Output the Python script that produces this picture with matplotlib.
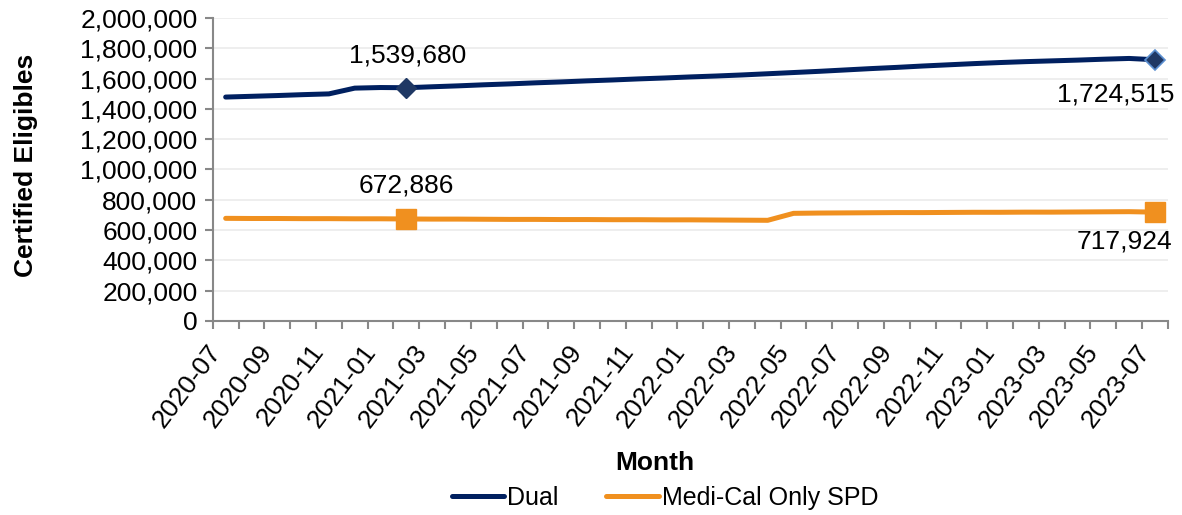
import numpy as np
import matplotlib
matplotlib.use("Agg")
import matplotlib.pyplot as plt
from matplotlib.ticker import FuncFormatter, MultipleLocator, FixedLocator
from matplotlib.transforms import ScaledTranslation

plt.rcParams['font.family'] = ['Liberation Sans', 'DejaVu Sans']

# months 2020-07 .. 2023-07
months = [f"{2020 + (6 + i) // 12}-{(6 + i) % 12 + 1:02d}" for i in range(37)]

dual = [1478000, 1483000, 1488000, 1494000, 1499000, 1537000, 1541000, 1539680,
        1546000, 1552000, 1559000, 1565000, 1572000, 1578000, 1585000, 1591000,
        1598000, 1604000, 1611000, 1617000, 1624000, 1632000, 1640000, 1648000,
        1657000, 1666000, 1674000, 1683000, 1691000, 1699000, 1706000, 1712000,
        1717000, 1722000, 1728000, 1733000, 1724515]

spd = [677000, 676000, 676000, 675000, 675000, 674000, 674000, 672886,
       672000, 672000, 671000, 670000, 670000, 669000, 669000, 668000,
       668000, 667000, 667000, 666000, 665000, 664000, 710000, 712000,
       713000, 714000, 715000, 715000, 716000, 717000, 717000, 718000,
       718000, 719000, 720000, 721000, 717924]

NAVY = '#002060'
ORANGE = '#F0901F'
FS = 19

fig = plt.figure(figsize=(11.82, 5.15), dpi=100)
ax = fig.add_axes([0.180, 0.377, 0.808, 0.588])

x = np.arange(len(months))
ax.plot(x, dual, color=NAVY, lw=3.6, solid_capstyle='round', label='Dual', zorder=3)
ax.plot(x, spd, color=ORANGE, lw=3.6, solid_capstyle='round', label='Medi-Cal Only SPD', zorder=3)

# highlighted points
ax.plot(7, dual[7], marker='D', ms=10, color='#1F3864', zorder=4)
ax.plot(36, dual[36], marker='D', ms=10, color='#1F3864', mec='#5B8FD0', mew=1.2, zorder=4)
ax.plot(7, spd[7], marker='s', ms=14, color=ORANGE, zorder=4)
ax.plot(36, spd[36], marker='s', ms=14, color=ORANGE, zorder=4)

fmt = lambda v: f"{v:,.0f}"
ax.annotate(fmt(dual[7]), (7, dual[7]), xytext=(1, 23), textcoords='offset points',
            ha='center', va='center', fontsize=FS)
ax.annotate(fmt(spd[7]), (7, spd[7]), xytext=(0, 24), textcoords='offset points',
            ha='center', va='center', fontsize=FS)
ax.annotate(fmt(dual[36]), (36, dual[36]), xytext=(-28, -25), textcoords='offset points',
            ha='center', va='center', fontsize=FS)
ax.annotate(fmt(spd[36]), (36, spd[36]), xytext=(-22, -21), textcoords='offset points',
            ha='center', va='center', fontsize=FS)

ax.set_xlim(-0.5, len(months) - 0.5)
ax.set_ylim(0, 2000000)
ax.yaxis.set_major_locator(MultipleLocator(200000))
ax.yaxis.set_major_formatter(FuncFormatter(lambda v, p: f"{v:,.0f}"))
ax.grid(axis='y', color='#EBEBEB', lw=1.2, zorder=0)

ax.set_xticks(x[::2])
ax.set_xticklabels(months[::2], rotation=53, ha='right', fontsize=FS)
shift = ScaledTranslation(5 / 100, 0, fig.dpi_scale_trans)
for lbl in ax.get_xticklabels():
    lbl.set_transform(lbl.get_transform() + shift)
ax.xaxis.set_minor_locator(FixedLocator(np.arange(-0.5, len(months), 1)))
ax.tick_params(axis='x', which='major', length=0, pad=14)
ax.tick_params(axis='x', which='minor', length=6, color='#888888', width=1.5)
ax.tick_params(axis='y', length=6, color='#888888', width=1.5, labelsize=FS, pad=5)

for s in ['top', 'right']:
    ax.spines[s].set_visible(False)
for s in ['left', 'bottom']:
    ax.spines[s].set_color('#888888')
    ax.spines[s].set_linewidth(1.5)

ax.set_xlabel('Month', fontsize=FS, fontweight='bold')
ax.xaxis.set_label_coords(0.463, -0.43)
ax.set_ylabel('Certified Eligibles', fontsize=FS, fontweight='bold')
ax.yaxis.set_label_coords(-0.183, 0.512)

ax.legend(loc='center', bbox_to_anchor=(665 / 1182, 1 - 498 / 515), bbox_transform=fig.transFigure,
          ncol=2, frameon=False, fontsize=18, handlelength=2.1, handletextpad=0.12,
          columnspacing=1.9)

fig.savefig('out.png', dpi=100)
